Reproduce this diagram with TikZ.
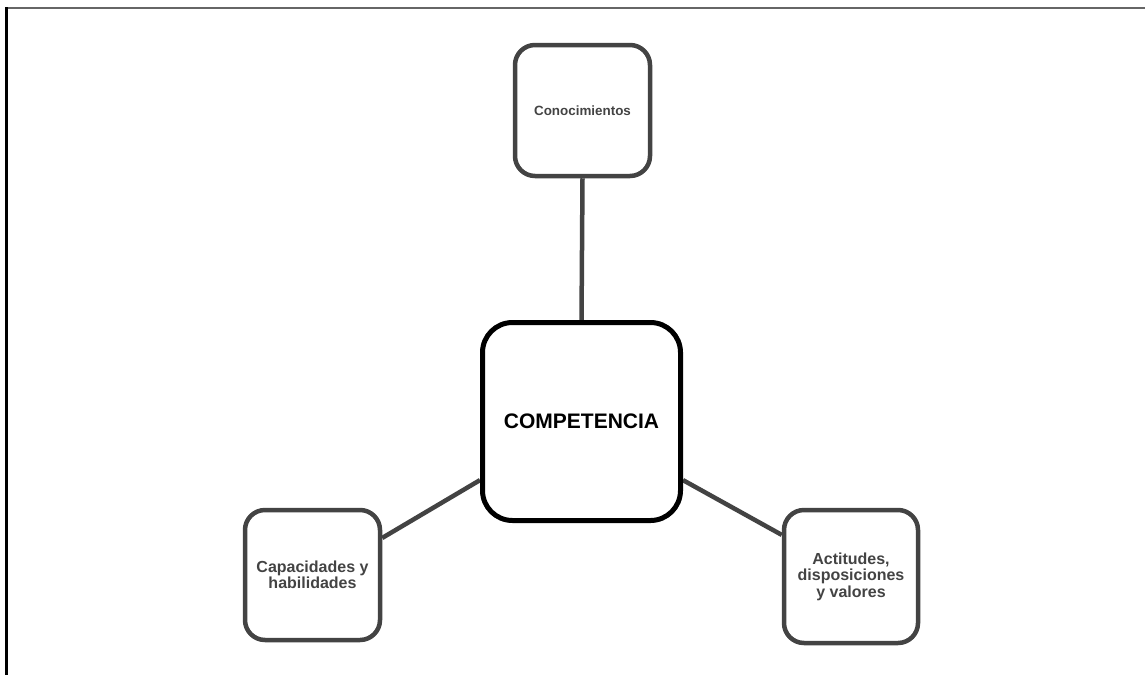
\documentclass[tikz,border=0pt]{standalone}
\usepackage{fontspec}
\setmainfont{Liberation Sans}
\usetikzlibrary{backgrounds}
\definecolor{dk}{HTML}{434343}
\tikzset{
  outerbox/.style={draw=dk, line width=4.5pt, rounded corners=20pt, align=center,
    text=dk, font=\bfseries\fontsize{16}{16.5}\selectfont, inner sep=0pt},
  centerbox/.style={draw=black, line width=5pt, rounded corners=30pt, align=center,
    font=\bfseries\fontsize{21}{24}\selectfont, inner sep=0pt,
    minimum width=198pt, minimum height=198pt},
  link/.style={draw=dk, line width=4.5pt}
}
\begin{document}
\begin{tikzpicture}[x=1pt,y=-1pt]
\useasboundingbox (0,0) rectangle (1145,675);
\draw[line width=2pt, color=gray!80!black] (5,8) coordinate (tl) -- (1145,8) coordinate (tr);
\draw[line width=2.6pt, black] (6.3,7) -- (6.3,675) coordinate (bl);
\node[outerbox, minimum width=135pt, minimum height=131pt,
  font=\bfseries\fontsize{13.4}{16}\selectfont] (con) at (582.5,110.5) {Conocimientos};
\node[centerbox] (comp) at (581.5,421.5) {COMPETENCIA};
\node[outerbox, minimum width=135pt, minimum height=130pt] (cap) at (312.5,575)
  {Capacidades y\\habilidades};
\node[outerbox, minimum width=134pt, minimum height=133pt] (act) at (851,576.5)
  {Actitudes,\\disposiciones\\y valores};
\begin{scope}[on background layer]
\draw[link] (con.south) -- (comp.north);
\draw[link] (cap.28.7) -- (comp.210.5);
\draw[link] (comp.330) -- (act.149);
\end{scope}
\end{tikzpicture}
\end{document}
